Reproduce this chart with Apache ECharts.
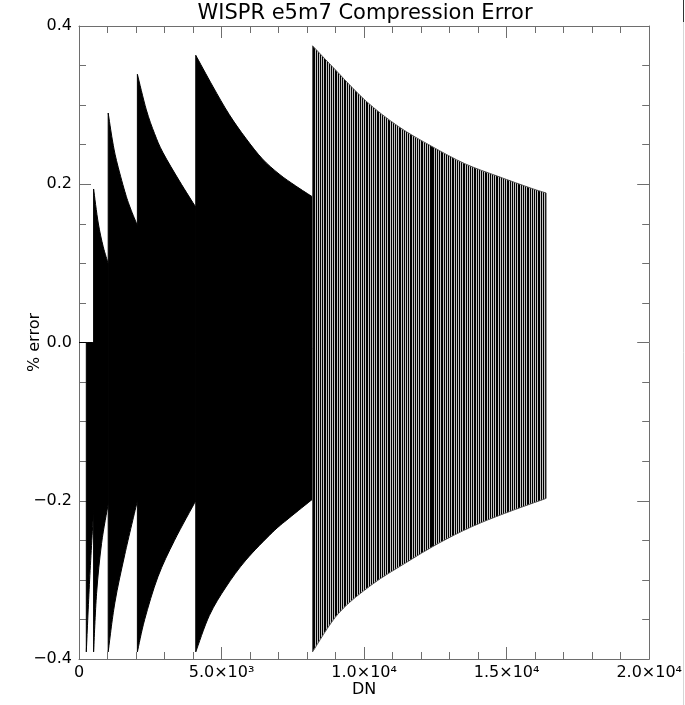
<!DOCTYPE html>
<html>
<head>
<meta charset="utf-8">
<title>WISPR e5m7 Compression Error</title>
<script src="https://cdn.jsdelivr.net/npm/echarts@6/dist/echarts.min.js"></script>
<style>
  html, body { margin: 0; padding: 0; background: #fff; }
  #chart { width: 685px; height: 705px; }
</style>
</head>
<body>
<div id="chart"></div>
<script>
// envelope of the % error trace as (DN, % error)
// a repeated DN marks the jump at an exponent boundary
const upperDN  = [0, 256, 512,
                  512, 675, 850, 1024,
                  1024, 1170, 1315, 1606, 1800, 2048,
                  2048, 2362, 2650, 2944, 3525, 4096,
                  4096, 4689, 5271, 5853, 6434, 7016, 7597, 8192,
                  8192, 8877, 10041, 11204, 12368, 13532, 14695, 15858, 16384];
const upperErr = [0, 0, 0,
                  0.194, 0.151, 0.121, 0.100,
                  0.290, 0.256, 0.230, 0.191, 0.170, 0.148,
                  0.339, 0.294, 0.264, 0.240, 0.204, 0.171,
                  0.363, 0.324, 0.288, 0.258, 0.232, 0.213, 0.198, 0.184,
                  0.375, 0.349, 0.306, 0.273, 0.248, 0.226, 0.210, 0.195, 0.189];

const lowerDN  = [0, 256,
                  256, 373, 512,
                  512, 617, 791, 1024,
                  1024, 1257, 1606, 2048,
                  2048, 2304, 2769, 3351, 4096,
                  4096, 4572, 5155, 5853, 6783, 7365, 8192,
                  8192, 9110, 10273, 11437, 12600, 13763, 14927, 16384];
const lowerErr = [0, 0,
                  -0.391, -0.300, -0.212,
                  -0.391, -0.317, -0.254, -0.204,
                  -0.391, -0.329, -0.268, -0.200,
                  -0.391, -0.350, -0.296, -0.250, -0.200,
                  -0.391, -0.345, -0.309, -0.275, -0.240, -0.222, -0.198,
                  -0.391, -0.342, -0.306, -0.279, -0.254, -0.233, -0.216, -0.197];

// from this DN on the teeth are far enough apart to show as separate lines
const sparseStartDN = 8192;

const xTicks = { 0: '0', 5000: '5.0×10³', 10000: '1.0×10⁴', 15000: '1.5×10⁴', 20000: '2.0×10⁴' };

const FONT = 'DejaVu Sans';
const AXIS_COLOR = '#6e6e6e';

function splitAtJumps(xs, ys) {
  const segs = [];
  let cur = [];
  xs.forEach((x, i) => {
    if (i > 0 && x === xs[i - 1]) { segs.push(cur); cur = []; }
    cur.push([x, ys[i]]);
  });
  segs.push(cur);
  return segs;
}

// one band per exponent range: the upper edge over the same DN span as the lower edge
const upperSegs = splitAtJumps(upperDN, upperErr);
const bands = splitAtJumps(lowerDN, lowerErr).map(low => {
  const a = low[0][0], b = low[low.length - 1][0];
  const up = upperSegs.find(s => s[0][0] <= a && s[s.length - 1][0] >= b);
  return { upper: up.filter(p => p[0] >= a && p[0] <= b), lower: low };
});

// hard-stop horizontal gradient that reads as thin vertical lines
function stripes(x0, x1, period, darkShare, dark, light) {
  const w = x1 - x0;
  const stops = [];
  for (let s = 0; s < w; s += period) {
    const a = s / w;
    const b = Math.min((s + period * darkShare) / w, 1);
    const c = Math.min((s + period) / w, 1);
    stops.push({ offset: a, color: dark }, { offset: b, color: dark },
               { offset: b, color: light }, { offset: c, color: light });
  }
  return new echarts.graphic.LinearGradient(x0, 0, x1, 0, stops, true);
}

// smooth curve through pixel points (Catmull-Rom as cubic Beziers)
function curvePath(pts, move) {
  let d = (move ? 'M' : 'L') + pts[0][0] + ' ' + pts[0][1];
  for (let i = 0; i < pts.length - 1; i++) {
    const p0 = pts[i - 1] || pts[i], p1 = pts[i], p2 = pts[i + 1], p3 = pts[i + 2] || p2;
    const c1x = p1[0] + (p2[0] - p0[0]) / 6, c1y = p1[1] + (p2[1] - p0[1]) / 6;
    const c2x = p2[0] - (p3[0] - p1[0]) / 6, c2y = p2[1] - (p3[1] - p1[1]) / 6;
    d += ' C' + c1x + ' ' + c1y + ' ' + c2x + ' ' + c2y + ' ' + p2[0] + ' ' + p2[1];
  }
  return d;
}

function renderBand(params, api) {
  const band = bands[params.dataIndex];
  const sparse = band.lower[0][0] >= sparseStartDN;
  const up = band.upper.map(p => api.coord(p));
  const lo = band.lower.slice().reverse().map(p => api.coord(p));
  const fill = sparse ? stripes(up[0][0], up[up.length - 1][0], 1.83, 0.55, '#000', '#c4c4c4') : '#000';
  return {
    type: 'path',
    shape: { pathData: curvePath(up, true) + ' ' + curvePath(lo, false) + ' Z' },
    style: { fill: fill, stroke: sparse ? '#555' : '#000', lineWidth: 1 }
  };
}

function tickAxis(extra) {
  return Object.assign({
    axisLine: { onZero: false, lineStyle: { color: AXIS_COLOR, width: 1 } },
    axisTick: { inside: true, length: 12, lineStyle: { color: AXIS_COLOR } },
    splitLine: { show: false }
  }, extra);
}

const chart = echarts.init(document.getElementById('chart'), null, { renderer: 'canvas' });
chart.setOption({
  animation: false,
  backgroundColor: '#fff',
  grid: { left: 79, right: 33, top: 26, bottom: 46 },
  xAxis: [
    tickAxis({
      type: 'value', position: 'bottom', min: 0, max: 20000, interval: 5000,
      minorTick: { show: true, splitNumber: 5, length: 7, lineStyle: { color: AXIS_COLOR } },
      name: 'DN', nameLocation: 'middle', nameGap: 23, nameMoveOverlap: false,
      nameTextStyle: { color: '#000', fontFamily: FONT, fontSize: 16 },
      axisLabel: {
        color: '#000', fontFamily: FONT, fontSize: 16, margin: 6,
        formatter: v => xTicks[v] || ''
      }
    }),
    tickAxis({
      type: 'value', position: 'top', min: 0, max: 20000, interval: 5000,
      minorTick: { show: true, splitNumber: 5, length: 7, lineStyle: { color: AXIS_COLOR } },
      axisLabel: { show: false }
    })
  ],
  yAxis: [
    tickAxis({
      type: 'value', position: 'left', min: -0.4, max: 0.4, interval: 0.2,
      minorTick: { show: true, splitNumber: 4, length: 7, lineStyle: { color: AXIS_COLOR } },
      name: '% error', nameLocation: 'middle', nameGap: 36, nameRotate: 90, nameMoveOverlap: false,
      nameTextStyle: { color: '#000', fontFamily: FONT, fontSize: 16 },
      axisLabel: {
        color: '#000', fontFamily: FONT, fontSize: 16, margin: 7,
        formatter: v => Math.abs(v) < 1e-9 ? '0.0' : (v < 0 ? '\u2212' + (-v).toFixed(1) : v.toFixed(1))
      }
    }),
    tickAxis({
      type: 'value', position: 'right', min: -0.4, max: 0.4, interval: 0.2,
      minorTick: { show: true, splitNumber: 4, length: 7, lineStyle: { color: AXIS_COLOR } },
      axisLabel: { show: false }
    })
  ],
  graphic: [
    {
      type: 'text', x: 365, y: 3,
      style: { text: 'WISPR e5m7 Compression Error', fill: '#000', font: '21px "DejaVu Sans"', textAlign: 'center', textVerticalAlign: 'top' }
    },
    // edge of the neighbouring panel
    { type: 'line', shape: { x1: 683.5, y1: 0, x2: 683.5, y2: 705 }, style: { stroke: '#d6d6d6', lineWidth: 1 } },
    { type: 'line', shape: { x1: 683.5, y1: 0, x2: 683.5, y2: 22 }, style: { stroke: '#333', lineWidth: 1 } }
  ],
  series: [{
    type: 'custom',
    silent: true,
    renderItem: renderBand,
    encode: { x: [0, 1], y: 2 },
    data: bands.map(b => [b.lower[0][0], b.lower[b.lower.length - 1][0], 0])
  }]
});
</script>
</body>
</html>
